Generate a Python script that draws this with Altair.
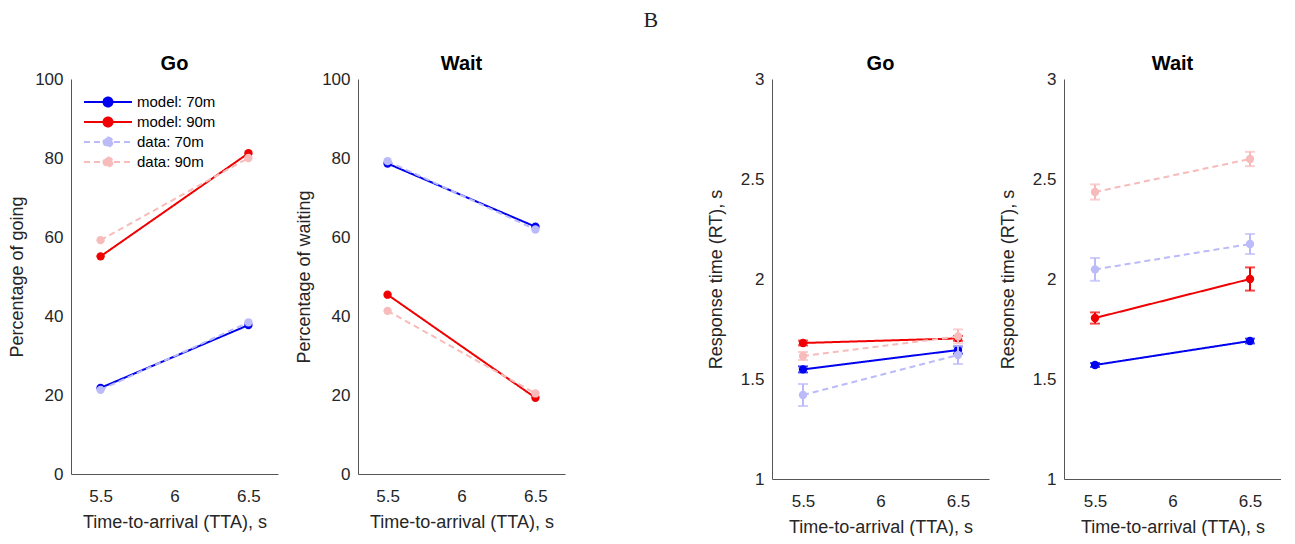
import altair as alt
import pandas as pd

TTA = [5.5, 6.5]

# ---- left pair: percentages ----
PCT_SERIES = ["model: 70m", "model: 90m", "data: 70m", "data: 90m"]
GO_MODEL_70 = [21.8, 37.7]
GO_MODEL_90 = [55.1, 81.2]
GO_DATA_70 = [21.3, 38.4]
GO_DATA_90 = [59.2, 80.0]
WAIT_MODEL_70 = [78.6, 62.6]
WAIT_MODEL_90 = [45.4, 19.3]
WAIT_DATA_70 = [79.2, 61.9]
WAIT_DATA_90 = [41.3, 20.4]

# ---- right pair: response times (mean, half error bar) ----
RT_SERIES = ["model: 70m", "model: 90m", "exp: 70m", "exp: 90m"]
RT_GO_MODEL_70 = [1.548, 1.645]
RT_GO_MODEL_70_ERR = [0.015, 0.018]
RT_GO_MODEL_90 = [1.680, 1.703]
RT_GO_MODEL_90_ERR = [0.012, 0.012]
RT_GO_EXP_70 = [1.420, 1.620]
RT_GO_EXP_70_ERR = [0.055, 0.045]
RT_GO_EXP_90 = [1.615, 1.713]
RT_GO_EXP_90_ERR = [0.020, 0.035]
RT_WAIT_MODEL_70 = [1.570, 1.690]
RT_WAIT_MODEL_70_ERR = [0.010, 0.012]
RT_WAIT_MODEL_90 = [1.805, 2.000]
RT_WAIT_MODEL_90_ERR = [0.028, 0.058]
RT_WAIT_EXP_70 = [2.048, 2.175]
RT_WAIT_EXP_70_ERR = [0.057, 0.050]
RT_WAIT_EXP_90 = [2.435, 2.600]
RT_WAIT_EXP_90_ERR = [0.038, 0.036]

COLORS = ["#0000f0", "#f00000", "#bbbbfa", "#f8bbbb"]
DASHES = [[1, 0], [1, 0], [6, 4], [6, 4]]
FONT = "Liberation Sans"
TXT = "#262626"


def make_df(series_names, values, errs=None):
    rows = []
    for i, (name, vals) in enumerate(zip(series_names, values)):
        for j, t in enumerate(TTA):
            e = errs[i][j] if errs else 0.0
            rows.append({"tta": t, "value": vals[j], "lo": vals[j] - e, "hi": vals[j] + e,
                         "series": name, "kind": "model" if i < 2 else "data"})
    return pd.DataFrame(rows)


LINE_PATH = "M-2.4,0H2.4M0.45,0A0.45,0.45,0,1,1,-0.45,0A0.45,0.45,0,1,1,0.45,0"
ERR_PATH = LINE_PATH + "M0,-0.85V0.85M-0.4,-0.85H0.4M-0.4,0.85H0.4"


def panel(df, names, title, ytitle, ydom, yticks, legend, errs, w, h, ytp):
    sc = alt.Scale(domain=names, range=COLORS)
    dsc = alt.Scale(domain=names, range=DASHES)
    if legend:
        leg = alt.Legend(title=None, orient="none", legendX=0, legendY=12,
                         symbolType=ERR_PATH if errs else LINE_PATH,
                         symbolSize=400, symbolStrokeWidth=2, symbolOffset=26,
                         labelOffset=18, labelFont=FONT, labelFontSize=15,
                         labelColor="#000000", rowPadding=0, padding=0)
    else:
        leg = None
    x = alt.X("tta:Q", scale=alt.Scale(domain=[5.3, 6.7], nice=False, zero=False),
              axis=alt.Axis(values=[5.5, 6, 6.5], format=".3~g",
                            title="Time-to-arrival (TTA), s"))
    y = alt.Y("value:Q", scale=alt.Scale(domain=ydom, nice=False, zero=False),
              axis=alt.Axis(values=yticks, format=".3~g", title=ytitle, titlePadding=ytp))
    base = alt.Chart(df)
    layers = []
    first = True
    for kind in ["model", "data"]:
        b = base.transform_filter(alt.datum.kind == kind)
        if errs:
            layers.append(b.mark_rule(strokeWidth=2).encode(
                x=x, y=alt.Y("lo:Q", scale=alt.Scale(domain=ydom, nice=False, zero=False)),
                y2="hi:Q",
                stroke=alt.Stroke("series:N", scale=sc, legend=None)))
            for fld in ["lo", "hi"]:
                layers.append(b.mark_tick(orient="horizontal", size=10, thickness=2).encode(
                    x=x, y=alt.Y(f"{fld}:Q", scale=alt.Scale(domain=ydom, nice=False, zero=False)),
                    fill=alt.Fill("series:N", scale=sc, legend=None)))
        layers.append(b.mark_line(strokeWidth=2).encode(
            x=x, y=y,
            stroke=alt.Stroke("series:N", scale=sc, legend=leg if first else None),
            strokeDash=alt.StrokeDash("series:N", scale=dsc, legend=leg if first else None),
            detail="series:N"))
        layers.append(b.mark_point(filled=True, size=70, opacity=1).encode(
            x=x, y=y,
            fill=alt.Fill("series:N", scale=sc, legend=leg if first else None)))
        first = False
    return alt.layer(*layers).properties(
        width=w, height=h,
        title=alt.TitleParams(title, fontSize=20, fontWeight="bold", font=FONT,
                              color="#000000", offset=-4))


pct_go = make_df(PCT_SERIES, [GO_MODEL_70, GO_MODEL_90, GO_DATA_70, GO_DATA_90])
pct_wait = make_df(PCT_SERIES, [WAIT_MODEL_70, WAIT_MODEL_90, WAIT_DATA_70, WAIT_DATA_90])
rt_go = make_df(RT_SERIES, [RT_GO_MODEL_70, RT_GO_MODEL_90, RT_GO_EXP_70, RT_GO_EXP_90],
                [RT_GO_MODEL_70_ERR, RT_GO_MODEL_90_ERR, RT_GO_EXP_70_ERR, RT_GO_EXP_90_ERR])
rt_wait = make_df(RT_SERIES, [RT_WAIT_MODEL_70, RT_WAIT_MODEL_90, RT_WAIT_EXP_70, RT_WAIT_EXP_90],
                  [RT_WAIT_MODEL_70_ERR, RT_WAIT_MODEL_90_ERR, RT_WAIT_EXP_70_ERR, RT_WAIT_EXP_90_ERR])

PCT_TICKS = [0, 20, 40, 60, 80, 100]
RT_TICKS = [1, 1.5, 2, 2.5, 3]

p1 = panel(pct_go, PCT_SERIES, "Go", "Percentage of going", [0, 100], PCT_TICKS, True, False, 207, 395, 8)
p2 = panel(pct_wait, PCT_SERIES, "Wait", "Percentage of waiting", [0, 100], PCT_TICKS, False, False, 207, 395, 8)
p3 = panel(rt_go, RT_SERIES, "Go", "Response time (RT), s", [1, 3], RT_TICKS, True, True, 217, 400, 15)
p4 = panel(rt_wait, RT_SERIES, "Wait", "Response time (RT), s", [1, 3], RT_TICKS, False, True, 217, 400, 15)

res = dict(stroke="independent", fill="independent", strokeDash="independent")
left = alt.hconcat(p1, p2, spacing=17).resolve_scale(**res)
right = alt.hconcat(p3, p4, spacing=10).resolve_scale(**res)

chart = alt.hconcat(left, right, spacing=142).resolve_scale(**res).properties(
    title=alt.TitleParams("B", font="Liberation Serif", fontSize=22, fontWeight="normal",
                          color="#222222", anchor="middle", offset=22, dx=6),
    padding={"left": 0, "top": 1, "right": 0, "bottom": 0},
).configure_view(stroke=None).configure_axis(
    labelFont=FONT, titleFont=FONT, labelFontSize=17, titleFontSize=18,
    labelColor=TXT, titleColor=TXT, titleFontWeight="normal",
    domainColor="#555555", domainWidth=1, ticks=False, grid=False,
    labelPadding=8,
).configure_axisX(labelPadding=14, titlePadding=9)

chart.save("out.html", embed_options={"renderer": "svg", "actions": False})
